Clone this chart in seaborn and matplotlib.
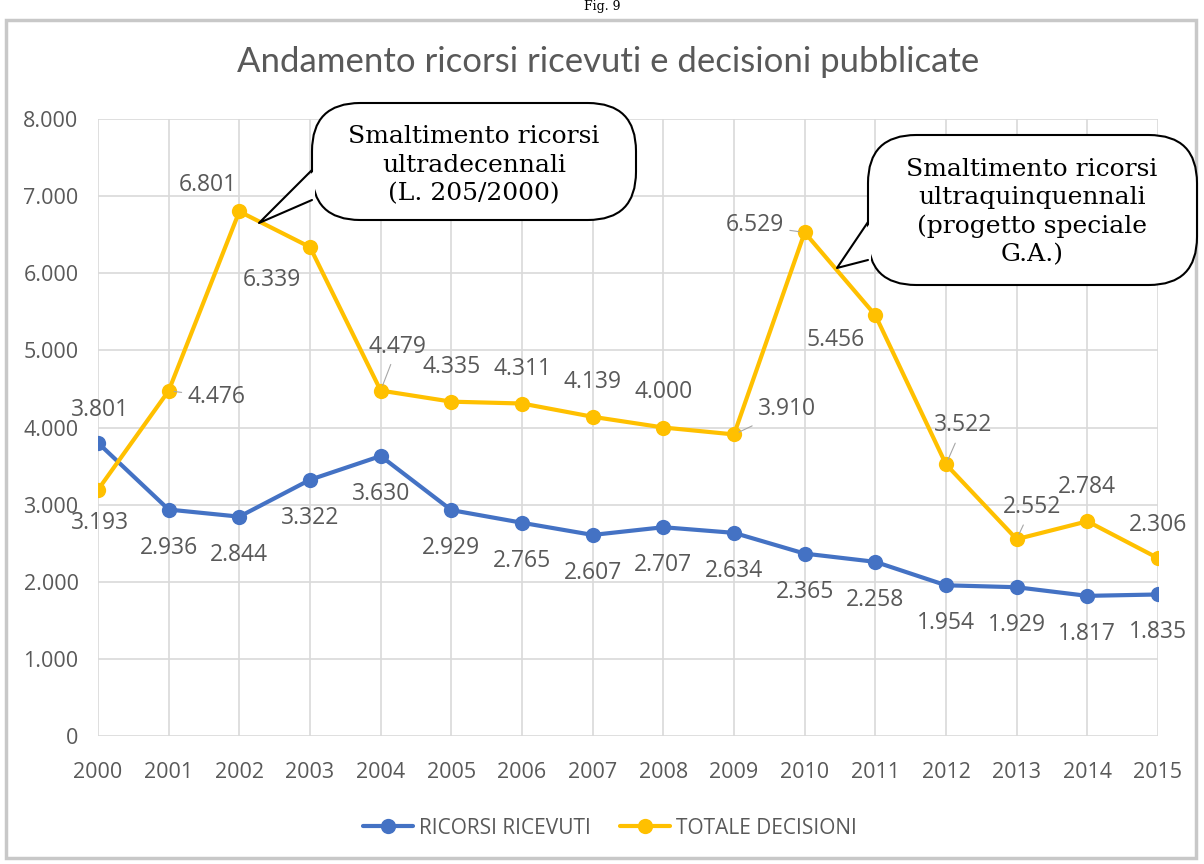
import pandas as pd
import numpy as np
import matplotlib.pyplot as plt
import seaborn as sns
from matplotlib.patches import FancyBboxPatch, Polygon, Rectangle
from matplotlib.lines import Line2D

# data
years = list(range(2000, 2016))
ricorsi_ricevuti = [3801, 2936, 2844, 3322, 3630, 2929, 2765, 2607, 2707, 2634,
                    2365, 2258, 1954, 1929, 1817, 1835]
totale_decisioni = [3193, 4476, 6801, 6339, 4479, 4335, 4311, 4139, 4000, 3910,
                    6529, 5456, 3522, 2552, 2784, 2306]
series_names = ["RICORSI RICEVUTI", "TOTALE DECISIONI"]
title = "Andamento ricorsi ricevuti e decisioni pubblicate"
callout_1 = "Smaltimento ricorsi\nultradecennali\n(L. 205/2000)"
callout_2 = "Smaltimento ricorsi\nultraquinquennali\n(progetto speciale\nG.A.)"

df = pd.DataFrame({
    "anno": years * 2,
    "valore": ricorsi_ricevuti + totale_decisioni,
    "serie": [series_names[0]] * len(years) + [series_names[1]] * len(years),
})

BLUE = "#4472C4"
YELLOW = "#FFC000"
GREY_TXT = "#595959"
GRID = "#D9D9D9"
W, H = 1204, 864

sns.set_theme(style="whitegrid")
plt.rcParams["font.family"] = ["Open Sans", "DejaVu Sans"]

fig = plt.figure(figsize=(W / 100, H / 100), dpi=100)
ax = fig.add_axes([98 / W, 1 - 736 / H, (1158 - 98) / W, (736 - 119) / H])

sns.lineplot(data=df, x="anno", y="valore", hue="serie", palette=[BLUE, YELLOW],
             marker="o", markersize=11, markeredgewidth=0, linewidth=3,
             ax=ax, legend=False, zorder=3)

ax.set_xlim(2000, 2015)
ax.set_ylim(0, 8000)
ax.set_xticks(years)
ax.set_yticks(range(0, 8001, 1000))
ax.set_yticklabels([f"{v:,}".replace(",", ".") for v in range(0, 8001, 1000)])
ax.tick_params(axis="x", labelsize=15.5, colors=GREY_TXT, pad=19, length=0)
ax.tick_params(axis="y", labelsize=15.5, colors=GREY_TXT, pad=14, length=0)
ax.set_xlabel("")
ax.set_ylabel("")
ax.grid(True, color=GRID, linewidth=1.2)
for s in ax.spines.values():
    s.set_visible(False)
ax.set_facecolor("white")

# data labels: pixel offsets (dx, dy with dy downward) and leader flags
blue_off = {2000: (2, -33)}
yellow_off = {2000: (2, 33), 2001: (48, 6), 2002: (-32, -26), 2003: (-38, 33),
              2004: (17, -44), 2009: (53, -25), 2010: (-50, -7), 2011: (-40, 25),
              2012: (17, -39), 2013: (15, -32), 2014: (0, -34), 2015: (0, -33)}
leaders = {2001, 2004, 2009, 2010, 2012, 2013}

def fmt(v):
    return f"{v:,}".replace(",", ".")

for yr, v in zip(years, ricorsi_ricevuti):
    dx, dy = blue_off.get(yr, (0, 38))
    ax.annotate(fmt(v), (yr, v), xytext=(dx, -dy), textcoords="offset pixels",
                ha="center", va="center", fontsize=16.5, color=GREY_TXT, zorder=5)

for yr, v in zip(years, totale_decisioni):
    dx, dy = yellow_off.get(yr, (0, -35))
    arrow = None
    if yr in leaders:
        arrow = dict(arrowstyle="-", color="#A6A6A6", lw=0.8, shrinkA=2, shrinkB=4)
    ax.annotate(fmt(v), (yr, v), xytext=(dx, -dy), textcoords="offset pixels",
                ha="center", va="center", fontsize=16.5, color=GREY_TXT, zorder=5,
                arrowprops=arrow)

# legend
handles = [Line2D([], [], color=c, lw=3, marker="o", markersize=11, markeredgewidth=0)
           for c in (BLUE, YELLOW)]
fig.legend(handles, series_names, loc="center", bbox_to_anchor=(610 / W, 1 - 828 / H),
           ncol=2, frameon=False, fontsize=15, labelcolor=GREY_TXT,
           handlelength=2.4, handletextpad=0.3, columnspacing=1.4)

fig.text(608 / W, 1 - 62 / H, title, ha="center", va="center", fontsize=25,
         color=GREY_TXT, family=["Lato", "DejaVu Sans"])

# figure frame and top caption
fig.patches.append(Rectangle((6 / W, 6 / H), 1190 / W, 1 - 26 / H, transform=fig.transFigure,
                             fill=False, edgecolor="#C8C8C8", lw=2.5, zorder=0))
fig.text(0.5, 1.0, "Fig. 9", ha="center", va="top", fontsize=9,
         family=["DejaVu Serif"], color="black")

def px(x, y):
    return (x / W, 1 - y / H)

def callout(x0, y0, x1, y1, tail_top, tip, tail_bot, text, cx, cy):
    box = FancyBboxPatch(px(x0, y1), (x1 - x0) / W, (y1 - y0) / H,
                         boxstyle="round,pad=0,rounding_size=0.04",
                         transform=fig.transFigure, facecolor="white",
                         edgecolor="black", lw=1.5, zorder=10, mutation_aspect=W / H)
    fig.patches.append(box)
    tail = Polygon([px(x0 + 3, tail_top), px(*tip), px(x0 + 3, tail_bot)],
                   closed=True, transform=fig.transFigure, facecolor="white",
                   edgecolor="none", zorder=11)
    fig.patches.append(tail)
    fig.lines.append(Line2D(*zip(px(x0, tail_top), px(*tip), px(x0, tail_bot)),
                            transform=fig.transFigure, color="black", lw=1.5, zorder=12))
    fig.text(*px(cx, cy), text, ha="center", va="center", fontsize=18,
             family=["DejaVu Serif"], color="black", linespacing=1.3, zorder=13)

callout(312, 103, 636, 220, 170, (259, 223), 200, callout_1, 474, 165)
callout(868, 135, 1197, 285, 222, (837, 268), 260, callout_2, 1032, 212)

fig.savefig("out.png", dpi=100, facecolor="white")
